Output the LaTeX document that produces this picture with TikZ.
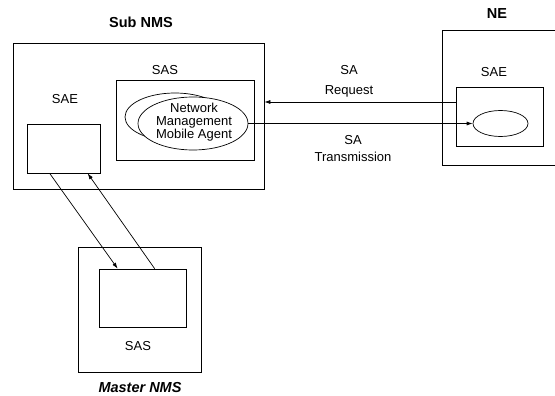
\documentclass[tikz,border=0pt]{standalone}
\usepackage{fontspec}
\setmainfont{Liberation Sans}
\usetikzlibrary{arrows.meta,shapes.geometric,calc}
\begin{document}
\begin{tikzpicture}[x=1pt,y=-1pt,
  box/.style={draw,line width=0.7pt,inner sep=0pt,fill=white},
  oval/.style={draw,ellipse,line width=0.7pt,inner sep=0pt,fill=white},
  lbl/.style={font=\fontsize{13}{13}\selectfont,inner sep=0pt},
  title/.style={font=\fontsize{14.5}{16}\selectfont\bfseries,inner sep=0pt},
  conn/.style={line width=0.7pt,-{Latex[length=6pt,width=4pt]}}]
\clip (0,0) rectangle (555,396);
\fill[white] (0,0) rectangle (555,396);
% Sub NMS
\node[title] (subtitle) at (141,22) {Sub NMS};
\node[box,minimum width=251pt,minimum height=146pt] (subnms) at (138.5,116) {};
\node[lbl] (saslbl) at (165,70) {SAS};
\node[box,minimum width=138pt,minimum height=80pt] (sas) at (185,120) {};
\node[lbl] (saelbl) at (65,99) {SAE};
\node[box,minimum width=73pt,minimum height=49pt] (sae) at (63.5,148.5) {};
\node[oval,minimum width=100pt,minimum height=48pt] (back) at (175,117) {};
\node[oval,minimum width=110pt,minimum height=53pt] (agent) at (193,123.5) {};
\node[lbl,align=center] (agenttxt) at (194,122) {Network\\Management\\Mobile Agent};
% NE
\node[title] (netitle) at (497,14) {NE};
\node[box,minimum width=133pt,minimum height=135pt] (ne) at (508.5,97.5) {};
\node[lbl] (nesaelbl) at (494,72) {SAE};
\node[box,minimum width=87pt,minimum height=59pt] (nesae) at (499.5,116.5) {};
\node[oval,minimum width=55pt,minimum height=26pt] (neell) at (500.5,123.5) {};
% Master NMS
\node[box,minimum width=123pt,minimum height=125pt] (master) at (139.5,309.5) {};
\node[box,minimum width=87pt,minimum height=58pt] (mas) at (142.5,298) {};
\node[lbl] (maslbl) at (138,346) {SAS};
\node[font=\fontsize{14.5}{16}\selectfont\bfseries\itshape,inner sep=0pt] (mastitle) at (140,388) {Master NMS};
% labels on arrows
\node[lbl,align=center] (reqlbl) at (349,81) {SA\\[7pt]Request};
\node[lbl,align=center] (trlbl) at (353,149) {SA\\[4pt]Transmission};
% connectors
\coordinate (reqstart) at (nesae.west |- 0,102);
\coordinate (reqend) at (subnms.east |- 0,102);
\draw[conn] (reqstart) -- (reqend);
\draw[conn] (agent.east) -- (neell.west);
\coordinate (a1s) at ([xshift=23pt]sae.south west);
\coordinate (a1e) at ([xshift=19pt]mas.north west);
\draw[conn] (a1s) -- (a1e);
\coordinate (a2s) at ([xshift=56pt]mas.north west);
\coordinate (a2e) at ([xshift=61pt]sae.south west);
\draw[conn] (a2s) -- (a2e);
\end{tikzpicture}
\end{document}
